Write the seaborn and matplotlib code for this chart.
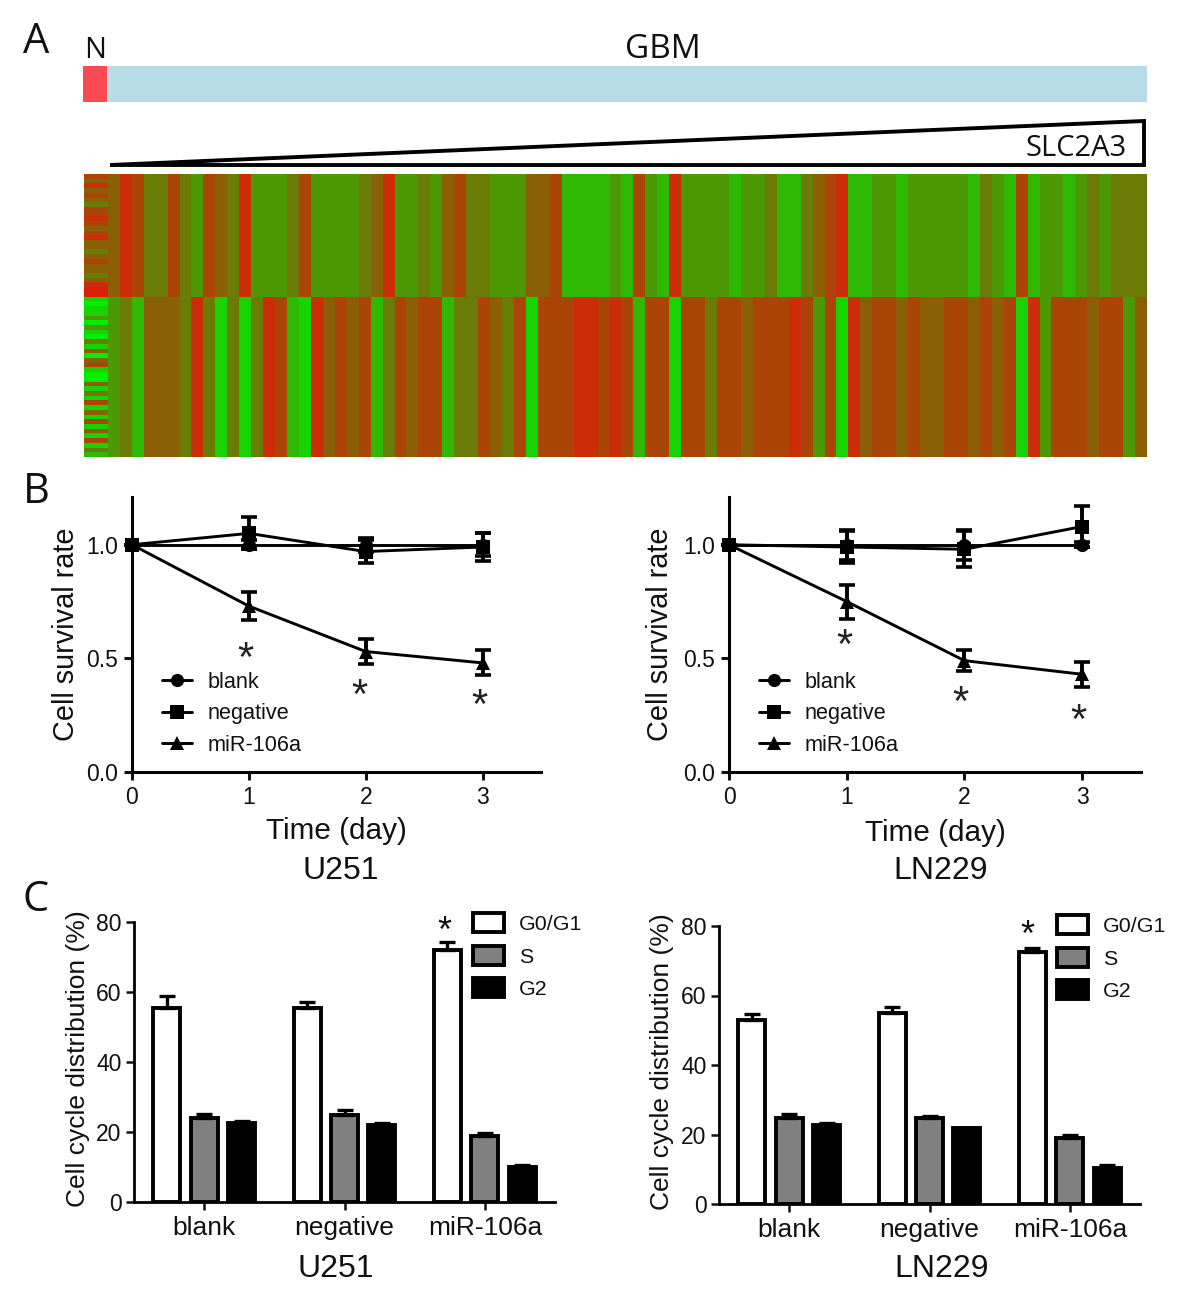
import numpy as np
import pandas as pd
import matplotlib
matplotlib.use("Agg")
import matplotlib.pyplot as plt
import seaborn as sns
from matplotlib.colors import LinearSegmentedColormap
from matplotlib.patches import Polygon

W, H = 1200, 1295

# panel A: sample bar and coarse heatmap bands (0 = green, 9 = red)
sample_groups = ["N", "GBM"]
sample_counts = [10, 434]
sample_colors = ["#fb4b52", "#b7dce7"]

upper_band = [3, 3, 5, 7, 6, 4, 4, 6, 4, 3, 6, 5, 4, 7, 3, 3, 3, 4, 6, 3, 3, 3, 3, 4, 5, 7, 3, 3, 4, 3,
              5, 6, 4, 4, 3, 3, 3, 5, 5, 6, 2, 2, 2, 2, 3, 2, 6, 3, 2, 7, 3, 3, 3, 3, 2, 3, 3, 4, 2,
              2, 4, 5, 6, 7, 2, 2, 3, 3, 2, 3, 3, 3, 3, 3, 2, 4, 3, 2, 6, 2, 3, 3, 2, 3, 4, 3, 4, 4, 4]
lower_band = [1, 1, 3, 4, 2, 5, 5, 5, 4, 7, 4, 1, 4, 1, 4, 7, 6, 2, 1, 7, 5, 6, 5, 6, 2, 4, 6, 5, 6, 6,
              2, 4, 4, 6, 5, 4, 6, 1, 6, 6, 6, 7, 7, 6, 7, 6, 2, 6, 6, 1, 6, 6, 4, 6, 6, 5, 6, 6, 6,
              7, 6, 3, 6, 1, 7, 5, 6, 6, 5, 6, 5, 5, 6, 6, 5, 6, 5, 6, 1, 7, 3, 6, 6, 6, 5, 6, 6, 3, 5]
normal_upper = [6, 5, 7, 5, 6, 5, 4, 6, 6, 7, 6, 5, 6, 7, 5, 5, 4, 5, 6, 5, 5, 4, 5, 7, 8, 8]
normal_lower = [1, 0, 1, 1, 3, 0, 3, 1, 0, 4, 1, 5, 0, 5, 6, 1, 0, 0, 5, 1, 4, 1, 6, 1, 5, 1, 6, 1, 5, 1, 6, 1, 4, 2]

# panel B: survival curves
days = [0, 1, 2, 3]
curve_groups = ["blank", "negative", "miR-106a"]
u251_blank = [1.0, 1.0, 1.0, 1.0]
u251_negative = [1.0, 1.05, 0.97, 0.99]
u251_mir = [1.0, 0.73, 0.53, 0.48]
u251_blank_err = [0, 0.02, 0.03, 0.05]
u251_negative_err = [0, 0.07, 0.05, 0.06]
u251_mir_err = [0, 0.06, 0.055, 0.055]
ln229_blank = [1.0, 1.0, 1.0, 1.0]
ln229_negative = [1.0, 0.99, 0.98, 1.08]
ln229_mir = [1.0, 0.75, 0.49, 0.43]
ln229_blank_err = [0, 0.065, 0.065, 0.01]
ln229_negative_err = [0, 0.07, 0.08, 0.09]
ln229_mir_err = [0, 0.075, 0.045, 0.055]
u251_stars = [(0.97, 0.495), (1.95, 0.33), (2.97, 0.285)]
ln229_stars = [(0.98, 0.55), (1.97, 0.30), (2.97, 0.22)]

# panel C: cell cycle
conditions = ["blank", "negative", "miR-106a"]
phases = ["G0/G1", "S", "G2"]
u251_g0 = [55.5, 55.5, 72]
u251_s = [24, 25, 19]
u251_g2 = [22.5, 22, 10]
u251_g0_err = [3.3, 1.6, 2.2]
u251_s_err = [1.2, 1.3, 0.8]
u251_g2_err = [0.7, 0.5, 0.7]
ln229_g0 = [53, 55, 72.5]
ln229_s = [24.7, 24.7, 19]
ln229_g2 = [22.7, 21.8, 10.5]
ln229_g0_err = [1.7, 1.7, 1.3]
ln229_s_err = [1.3, 0.5, 0.8]
ln229_g2_err = [0.7, 0.1, 0.7]

sns.set_theme(style="white")
plt.rcParams["font.family"] = ["Liberation Sans", "DejaVu Sans"]
plt.rcParams["text.color"] = "#111111"
plt.rcParams["axes.labelcolor"] = "#111111"
plt.rcParams["xtick.color"] = "#111111"
plt.rcParams["ytick.color"] = "#111111"

fig = plt.figure(figsize=(W / 100, H / 100), dpi=100, facecolor="white")


def add_ax(x0, y0, x1, y1):
    return fig.add_axes([x0 / W, 1 - y1 / H, (x1 - x0) / W, (y1 - y0) / H])


# page layer in pixel coordinates, for labels and the wedge
page = fig.add_axes([0, 0, 1, 1], zorder=5)
page.set_xlim(0, W)
page.set_ylim(H, 0)
page.axis("off")
page.patch.set_alpha(0)

for letter, x, y in [("A", 36, 42), ("B", 36, 492), ("C", 36, 900)]:
    page.text(x, y, letter, fontsize=30, family="Open Sans", ha="center", va="center")
page.text(95, 50, sample_groups[0], fontsize=21, family="Open Sans", ha="center", va="center")
page.text(663, 49, sample_groups[1], fontsize=24, family="Open Sans", ha="center", va="center")
page.text(1076, 149, "SLC2A3", fontsize=21, family="Open Sans", ha="center", va="center")
page.add_patch(Polygon([(110, 165), (1144, 121), (1144, 165)], closed=True, fill=False,
                       edgecolor="black", linewidth=2.8, joinstyle="miter"))

# sample annotation bar
ax_bar = add_ax(83, 66, 1147, 102)
ax_bar.barh([0], [sample_counts[0]], height=1, color=sample_colors[0], linewidth=0)
ax_bar.barh([0], [sample_counts[1]], left=[sample_counts[0]], height=1, color=sample_colors[1], linewidth=0)
ax_bar.set_xlim(0, sum(sample_counts))
ax_bar.set_ylim(-0.5, 0.5)
ax_bar.axis("off")

# expression heatmap
upper = np.tile(np.array(upper_band, dtype=float), (len(normal_upper), 1))
lower = np.tile(np.array(lower_band, dtype=float), (len(normal_lower), 1))
upper[:, 0] = normal_upper
upper[:, 1] = normal_upper
lower[:, 0] = normal_lower
lower[:, 1] = normal_lower
matrix = np.vstack([upper, lower])
green_red = LinearSegmentedColormap.from_list("gr", ["#00ee00", "#35b004", "#7a6c06", "#c43208", "#f40a00"])
ax_heat = add_ax(84, 174, 1147, 457)
sns.heatmap(matrix, ax=ax_heat, cmap=green_red, vmin=0, vmax=9, cbar=False,
            xticklabels=False, yticklabels=False)


def survival_panel(box, blank, negative, mir, errs, stars, ylab_x, xlab_y, name, name_xy, leg_xy):
    ax = add_ax(*box)
    df = pd.DataFrame({
        "day": days * 3,
        "rate": blank + negative + mir,
        "group": np.repeat(curve_groups, len(days)),
    })
    sns.lineplot(data=df, x="day", y="rate", hue="group", style="group", ax=ax,
                 palette=["black"] * 3, markers=["o", "s", "^"], dashes=False, errorbar=None,
                 linewidth=2.1, markersize=9.5, markeredgewidth=0, clip_on=False, zorder=4)
    for vals, err in zip([blank, negative, mir], errs):
        ax.errorbar(days, vals, yerr=err, fmt="none", ecolor="black", elinewidth=2.8,
                    capsize=6, capthick=2.6, clip_on=False, zorder=3)
    for x, y in stars:
        ax.text(x, y, "*", fontsize=30, ha="center", va="center", color="#222222")
    ax.set_xlim(0, 3.5)
    ax.set_ylim(0, 1.21)
    ax.set_xticks(days)
    ax.set_yticks([0, 0.5, 1.0], ["0.0", "0.5", "1.0"])
    ax.tick_params(labelsize=16.5, width=2.2, length=6, pad=4, bottom=True, left=True)
    sns.despine(ax=ax)
    for side in ["left", "bottom"]:
        ax.spines[side].set_linewidth(2.2)
        ax.spines[side].set_color("black")
    ax.set_xlabel("Time (day)", fontsize=21.4)
    ax.set_ylabel("Cell survival rate", fontsize=20.8)
    ax.xaxis.set_label_coords((box[0] + box[2]) / 2, xlab_y, transform=page.transData)
    ax.yaxis.set_label_coords(ylab_x, (box[1] + box[3]) / 2, transform=page.transData)
    page.text(name_xy[0], name_xy[1], name, fontsize=23, ha="center", va="center")
    sns.move_legend(ax, loc="upper left", bbox_to_anchor=(leg_xy[0] / W, 1 - leg_xy[1] / H),
                    bbox_transform=fig.transFigure, title=None, frameon=False, fontsize=15.6,
                    handlelength=1.4, handletextpad=0.72, labelspacing=0.48,
                    borderpad=0, borderaxespad=0)


survival_panel((132, 497, 541, 772), u251_blank, u251_negative, u251_mir,
               [u251_blank_err, u251_negative_err, u251_mir_err], u251_stars,
               80, 817, "U251", (341, 871), (162, 672))
survival_panel((729, 497, 1141, 772), ln229_blank, ln229_negative, ln229_mir,
               [ln229_blank_err, ln229_negative_err, ln229_mir_err], ln229_stars,
               674, 819, "LN229", (941, 871), (759, 672))


def cycle_panel(box, means, errs, star_x, ylab_x, name, name_xy, leg_xy):
    ax = add_ax(*box)
    df = pd.DataFrame({
        "condition": conditions * 3,
        "phase": np.repeat(phases, len(conditions)),
        "percent": means[0] + means[1] + means[2],
    })
    sns.barplot(data=df, x="condition", y="percent", hue="phase", ax=ax, errorbar=None,
                palette=["white", "#808080", "black"], width=0.8, gap=0.28,
                edgecolor="black", linewidth=2.8)
    for bars, vals, err in zip(ax.containers, means, errs):
        centers = [b.get_x() + b.get_width() / 2 for b in bars]
        ax.errorbar(centers, vals, yerr=[[0] * len(err), err], fmt="none", ecolor="black",
                    elinewidth=2.4, capsize=6, capthick=2.4, zorder=1)
    ax.text(star_x, 77, "*", fontsize=26, ha="center", va="center")
    ax.set_xlim(-0.5, 2.5)
    ax.set_ylim(0, 80)
    ax.set_yticks([0, 20, 40, 60, 80])
    ax.tick_params(axis="y", labelsize=16.5, width=1.8, length=6, pad=3, left=True)
    ax.tick_params(axis="x", labelsize=19, width=1.8, length=6, pad=4, bottom=True)
    sns.despine(ax=ax)
    for side in ["left", "bottom"]:
        ax.spines[side].set_linewidth(2)
        ax.spines[side].set_color("black")
    ax.set_xlabel("")
    ax.set_ylabel("Cell cycle distribution (%)", fontsize=19)
    ax.yaxis.set_label_coords(ylab_x, (box[1] + box[3]) / 2 - 3, transform=page.transData)
    page.text(name_xy[0], name_xy[1], name, fontsize=23, ha="center", va="center")
    sns.move_legend(ax, loc="upper left", bbox_to_anchor=(leg_xy[0] / W, 1 - leg_xy[1] / H),
                    bbox_transform=fig.transFigure, title=None, frameon=False, fontsize=15.4,
                    handlelength=1.45, handleheight=1.0, handletextpad=0.7, labelspacing=0.55,
                    borderpad=0, borderaxespad=0)


cycle_panel((134, 922, 555, 1202), [u251_g0, u251_s, u251_g2],
            [u251_g0_err, u251_s_err, u251_g2_err], 1.71, 90, "U251", (336, 1269), (473, 913))
cycle_panel((719, 926, 1140, 1204), [ln229_g0, ln229_s, ln229_g2],
            [ln229_g0_err, ln229_s_err, ln229_g2_err], 1.70, 674, "LN229", (942, 1269), (1057, 915))

fig.savefig("out.png", dpi=100, facecolor="white")
